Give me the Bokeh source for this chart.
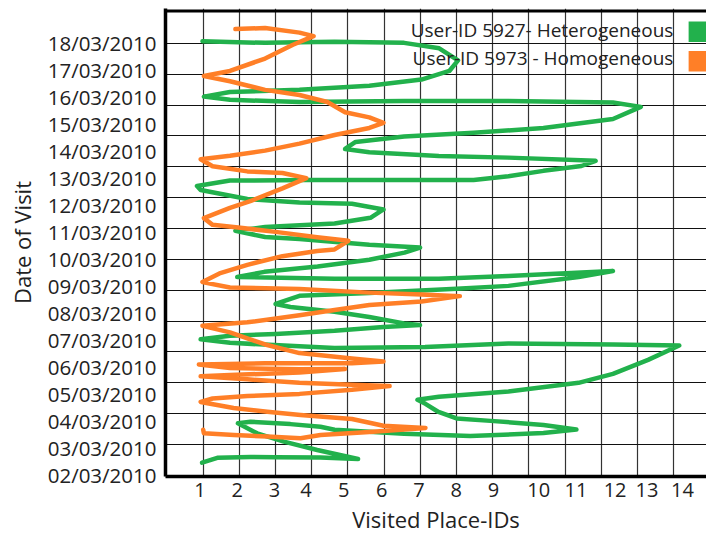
from bokeh.plotting import figure
from bokeh.models import Range1d, FixedTicker, CustomJSTickFormatter, Span, Label, BoxAnnotation, Title
from bokeh.embed import file_html
from bokeh.resources import INLINE

# ---------------- data ----------------
dates = ["02/03/2010", "03/03/2010", "04/03/2010", "05/03/2010", "06/03/2010",
         "07/03/2010", "08/03/2010", "09/03/2010", "10/03/2010", "11/03/2010",
         "12/03/2010", "13/03/2010", "14/03/2010", "15/03/2010", "16/03/2010",
         "17/03/2010", "18/03/2010"]
date_days = [2, 3, 4, 5, 6, 7, 8, 9, 10, 11, 12, 13, 14, 15, 16, 17, 18]
place_labels = ["1", "2", "3", "4", "5", "6", "7", "8", "9", "10", "11", "12", "13", "14"]

series_names = ["User-ID 5927- Heterogeneous", "User-ID 5973 - Homogeneous"]

# User-ID 5927 (heterogeneous): visited place (x) vs. day of March 2010 (y)
green_place = [0.97, 1.39, 2.31, 3.00, 4.24, 5.28, 4.15, 3.23, 2.49, 1.96,
               2.31, 3.41, 4.24, 4.63, 6.55, 8.38, 10.40, 11.31, 10.40, 8.94,
               8.00, 7.50, 7.14, 6.92, 7.51, 9.43, 11.37, 12.32, 13.29, 14.15,
               12.32, 9.43, 7.13, 4.63, 1.74, 0.93, 1.74, 3.00, 4.63, 5.98,
               6.99, 6.55, 5.59, 4.63, 3.41, 3.00, 3.66, 5.59, 8.00, 9.43,
               11.37, 12.32, 9.43, 7.51, 4.63, 1.94, 2.69, 4.16, 5.59, 6.56,
               6.99, 5.59, 3.66, 2.71, 1.89, 2.71, 4.63, 5.62, 5.98, 5.11,
               3.66, 2.22, 0.93, 0.83, 1.74, 3.85, 8.47, 9.43, 10.40, 11.45,
               11.84, 9.43, 7.51, 5.59, 4.92, 5.21, 6.55, 8.47, 10.40, 12.32,
               13.09, 12.32, 9.43, 6.55, 3.66, 1.74, 1.02, 1.74, 3.66, 5.59,
               7.03, 7.80, 8.04, 7.52, 6.55, 4.63, 2.71, 0.98]
green_day = [2.47, 2.65, 2.68, 2.67, 2.66, 2.61, 2.94, 3.25, 3.56, 3.93,
             3.99, 3.90, 3.80, 3.69, 3.54, 3.46, 3.57, 3.70, 3.87, 4.02,
             4.11, 4.35, 4.65, 4.80, 4.91, 5.11, 5.43, 5.76, 6.28, 6.81,
             6.85, 6.89, 6.76, 6.72, 6.91, 7.04, 7.17, 7.24, 7.36, 7.50,
             7.57, 7.63, 7.87, 8.06, 8.24, 8.35, 8.65, 8.76, 8.91, 9.02,
             9.35, 9.57, 9.39, 9.28, 9.28, 9.35, 9.54, 9.74, 9.99, 10.25,
             10.44, 10.54, 10.76, 10.83, 11.06, 11.20, 11.33, 11.54, 11.85, 12.06,
             12.11, 12.24, 12.57, 12.72, 12.92, 12.94, 12.94, 13.08, 13.28, 13.46,
             13.65, 13.77, 13.83, 13.97, 14.09, 14.35, 14.55, 14.69, 14.87, 15.20,
             15.65, 15.81, 15.87, 15.87, 15.83, 15.91, 16.03, 16.20, 16.28, 16.43,
             16.66, 16.98, 17.37, 17.82, 18.02, 18.06, 18.02, 18.08]

# User-ID 5973 (homogeneous)
orange_place = [1.89, 2.71, 3.66, 4.05, 3.48, 2.71, 1.74, 1.02, 1.74, 2.71,
                3.66, 4.43, 4.92, 5.59, 5.98, 5.59, 4.63, 3.66, 2.71, 1.74,
                0.93, 1.26, 2.22, 3.19, 3.85, 3.19, 2.32, 1.74, 1.02, 1.26,
                2.03, 3.00, 4.15, 5.01, 4.63, 4.15, 3.19, 2.22, 1.45, 0.98,
                1.74, 3.66, 5.59, 7.03, 8.09, 7.03, 5.59, 4.63, 3.66, 2.22,
                0.98, 1.74, 2.71, 3.66, 5.11, 5.98, 5.11, 2.71, 0.88, 1.74,
                3.66, 4.92, 3.66, 1.74, 0.93, 2.22, 3.66, 5.11, 6.15, 5.11,
                3.66, 2.22, 1.26, 0.93, 1.84, 2.77, 3.69, 5.11, 5.98, 7.14,
                5.59, 4.24, 3.69, 2.77, 1.85, 1.02, 1.00]
orange_day = [18.53, 18.57, 18.40, 18.27, 17.95, 17.44, 16.98, 16.79, 16.60, 16.28,
              16.09, 15.83, 15.45, 15.26, 15.06, 14.87, 14.61, 14.29, 14.03, 13.84,
              13.71, 13.45, 13.26, 13.20, 13.01, 12.63, 12.17, 11.91, 11.53, 11.28,
              11.17, 11.02, 10.82, 10.69, 10.37, 10.31, 10.12, 9.80, 9.48, 9.16,
              8.96, 8.90, 8.77, 8.70, 8.64, 8.44, 8.31, 8.13, 7.93, 7.67,
              7.54, 7.30, 6.85, 6.53, 6.33, 6.22, 6.15, 6.15, 6.11, 5.98,
              5.93, 5.94, 5.81, 5.72, 5.67, 5.56, 5.43, 5.36, 5.31, 5.17,
              5.02, 4.94, 4.85, 4.72, 4.50, 4.36, 4.24, 4.09, 3.84, 3.76,
              3.61, 3.50, 3.38, 3.44, 3.50, 3.56, 3.69]

# ---------------- styling / layout ----------------
FONT = "Open Sans"
TXT = "#222222"
GREEN = "#22B14C"
ORANGE = "#FF7F27"

x_start, x_end = -0.041, 14.904
y_start, y_end = 1.96, 19.293
place_label_pos = [0.91, 1.94, 2.97, 3.84, 4.88, 5.93, 6.96, 7.99, 9.02,
                   10.27, 11.30, 12.38, 13.26, 14.24]
grid_x = [1, 2, 3, 4, 5, 6, 7, 8, 9, 10, 11, 12, 13, 14]
grid_y = [2 + k * 8 / 7 for k in range(1, 15)]

p = figure(width=706, height=535, output_backend="svg", toolbar_location=None,
           x_range=Range1d(x_start, x_end), y_range=Range1d(y_start, y_end),
           min_border_left=165, min_border_right=0, min_border_top=8,
           min_border_bottom=59, background_fill_color="white",
           border_fill_color="white")
p.outline_line_color = None

# grid
p.xgrid.ticker = FixedTicker(ticks=grid_x)
p.ygrid.ticker = FixedTicker(ticks=grid_y)
p.xgrid.grid_line_color = "#333333"
p.ygrid.grid_line_color = "#111111"
for g in (p.xgrid, p.ygrid):
    g.grid_line_width = 1.2
    g.grid_line_alpha = 1.0

# axes
for ax in (p.xaxis, p.yaxis):
    ax.axis_line_color = "black"
    ax.axis_line_width = 3.5
    ax.major_tick_line_color = None
    ax.minor_tick_line_color = None
    ax.major_label_text_font = FONT
    ax.major_label_text_color = TXT

p.xaxis.major_label_text_font_size = "20px"
p.xaxis.ticker = FixedTicker(ticks=place_label_pos)
p.xaxis.formatter = CustomJSTickFormatter(
    args=dict(pos=place_label_pos, labels=place_labels),
    code="const i = pos.indexOf(tick); return i >= 0 ? labels[i] : '';")
p.xaxis.major_label_standoff = 0

p.yaxis.major_label_text_font_size = "20.5px"
p.yaxis.ticker = FixedTicker(ticks=date_days)
p.yaxis.formatter = CustomJSTickFormatter(
    args=dict(pos=date_days, labels=dates),
    code="const i = pos.indexOf(tick); return i >= 0 ? labels[i] : '';")
p.yaxis.major_label_standoff = 3
p.yaxis.axis_label = "Date of Visit"
p.yaxis.axis_label_text_font = FONT
p.yaxis.axis_label_text_font_size = "22px"
p.yaxis.axis_label_text_font_style = "normal"
p.yaxis.axis_label_text_color = TXT
p.yaxis.axis_label_standoff = 8

# x-axis title, placed left of the frame centre as in the original
p.add_layout(Title(text="Visited Place-IDs", align="center", offset=-16,
                   text_font=FONT, text_font_size="22px",
                   text_font_style="normal", text_color=TXT, standoff=4),
             "below")

# top border of the frame
p.add_layout(Span(location=y_end - 2.5 / 27.0, dimension="width",
                  line_color="black", line_width=3))

# curves
p.line(green_place, green_day, line_color=GREEN, line_width=4.5,
       line_join="round", line_cap="round")
p.line(orange_place, orange_day, line_color=ORANGE, line_width=4.5,
       line_join="round", line_cap="round")

# legend (text with swatch on the right, as in the original)
leg_x = 13.99
leg_text_y = [y_end - 21 / 27.0, y_end - 49 / 27.0]
leg_box_y = [y_end - 23 / 27.0, y_end - 52.5 / 27.0]
for name, color, ty, by in zip(series_names, [GREEN, ORANGE], leg_text_y, leg_box_y):
    p.add_layout(Label(x=leg_x, y=ty, text=name, text_align="right",
                       text_baseline="middle", text_font=FONT,
                       text_font_size="19px", text_color=TXT))
    p.add_layout(BoxAnnotation(left=14.41, right=x_end + 1,
                               top=by + 10 / 27.0, bottom=by - 10.5 / 27.0,
                               fill_color=color, fill_alpha=1.0,
                               line_color=None))

open("out.html", "w").write(file_html(p, INLINE))
